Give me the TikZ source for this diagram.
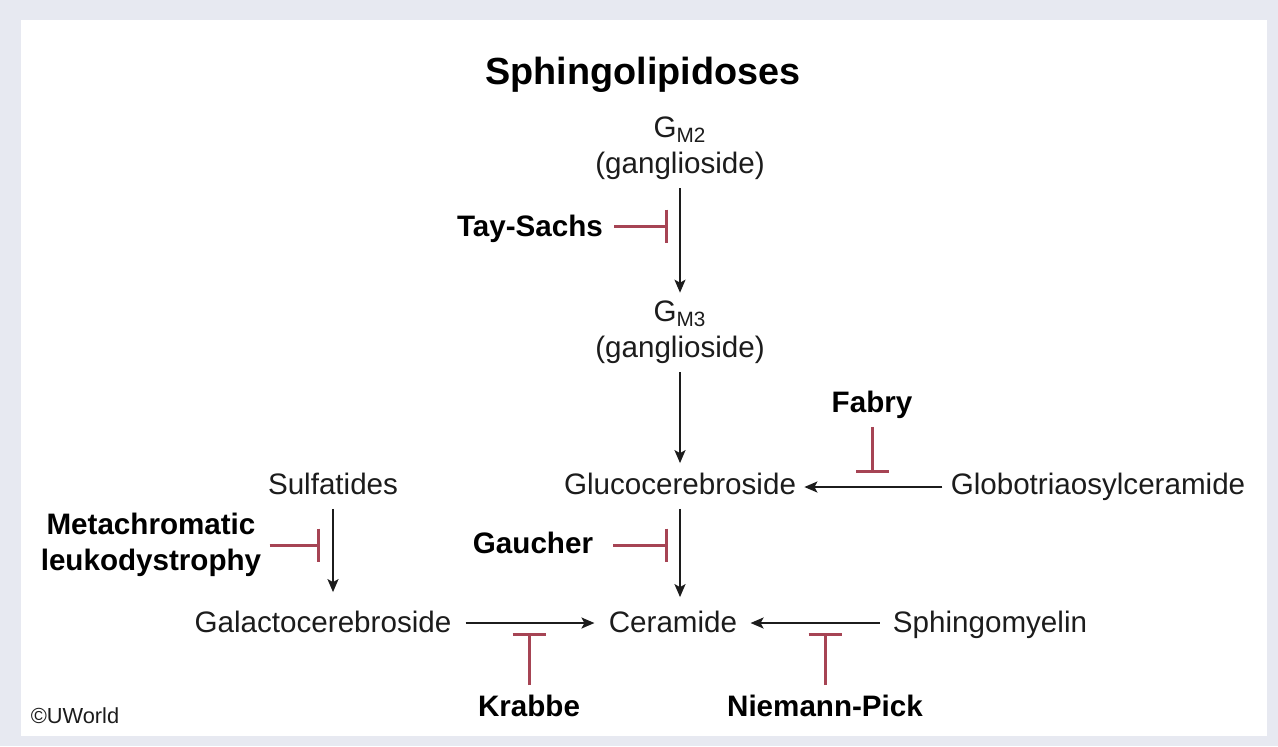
\documentclass[tikz,border=0pt]{standalone}
\usepackage{fontspec}
\setmainfont{Liberation Sans}
\usetikzlibrary{arrows.meta, positioning}
\definecolor{inhibRed}{RGB}{166,68,84}
\definecolor{panelBg}{RGB}{231,233,241}
\definecolor{txtDark}{RGB}{28,28,28}

\begin{document}
\begin{tikzpicture}[
    x=0.5pt, y=-0.5pt,
    font=\fontsize{14.8}{18}\selectfont,
    metab/.style={inner sep=4pt, text=txtDark, align=center},
    line/.style={text height=13.4pt, text depth=3.1pt},
    disease/.style={inner sep=4pt, font=\fontsize{14.8}{18}\selectfont\bfseries, text=black, align=center},
    arr/.style={-{Stealth[length=6.5pt, width=5.5pt, inset=1.5pt]}, line width=1pt, draw=txtDark},
    inhib/.style={-{Bar[width=16.5pt]}, line width=1.5pt, draw=inhibRed}
]

% panel
\fill[panelBg] (0,0) rectangle (1278,746);
\fill[white] (21,20) rectangle (1267,736);

\node[font=\fontsize{18.9}{22}\selectfont\bfseries] (title) at (643,75) {Sphingolipidoses};

% metabolites
\node[metab] (gm2) at (680,148.5) {G\textsubscript{M2}\\(ganglioside)};
\node[metab] (gm3) at (680,332.5) {G\textsubscript{M3}\\(ganglioside)};
\node[metab, line] (gluco) at (680,484) {Glucocerebroside};
\node[metab, line] (globo) at (1098,484) {Globotriaosylceramide};
\node[metab, line] (sulf) at (333,484) {Sulfatides};
\node[metab, line] (galacto) at (323,622) {Galactocerebroside};
\node[metab, line] (ceramide) at (673,622) {Ceramide};
\node[metab, line] (sphingo) at (990,622) {Sphingomyelin};

% diseases
\node[disease, line] (taySachs) at (530,226) {Tay-Sachs};
\node[disease, line] (fabry) at (872,402) {Fabry};
\node[disease] (metaLeuko) at (151,545) {Metachromatic\\leukodystrophy};
\node[disease, line] (gaucher) at (533,543) {Gaucher};
\node[disease, line] (krabbe) at (529,706) {Krabbe};
\node[disease, line] (niemann) at (825,706) {Niemann-Pick};

\node[font=\fontsize{10.9}{12}\selectfont, text=txtDark] (copy) at (75,716) {\textcopyright UWorld};

% enzyme blocks
\coordinate (tsBar) at (668,226);
\coordinate (fbBar) at (872,473);
\coordinate (mlBar) at (320,545);
\coordinate (gcBar) at (668,545);
\coordinate (kbBar) at (529,633);
\coordinate (npBar) at (825,633);

% pathway
\draw[arr] (gm2.south) -- (gm3.north);
\draw[arr, shorten >=-2pt] (gm3.south) -- (gluco.north);
\draw[arr] (gluco.south) -- (ceramide.north -| gluco.south);
\draw[arr, shorten >=2.5pt] (sulf.south) -- (galacto.north -| sulf.south);
\draw[arr] ([yshift=-1.5pt]globo.west) -- ([yshift=-1.5pt]gluco.east);
\draw[arr, shorten <=3pt, shorten >=3pt] ([yshift=-0.5pt]galacto.east) -- ([yshift=-0.5pt]ceramide.west);
\draw[arr, shorten <=2.5pt, shorten >=2.5pt] ([yshift=-0.5pt]sphingo.west) -- ([yshift=-0.5pt]ceramide.east);

\draw[inhib, shorten <=1.5pt] (taySachs.east) -- (tsBar);
\draw[inhib] (fabry.south) -- (fbBar);
\draw[inhib] (metaLeuko.east) -- (mlBar);
\draw[inhib, shorten <=6pt] (gaucher.east |- gcBar) -- (gcBar);
\draw[inhib, shorten <=-2pt] (krabbe.north) -- (kbBar);
\draw[inhib, shorten <=-2pt] (niemann.north) -- (npBar);
\end{tikzpicture}
\end{document}
